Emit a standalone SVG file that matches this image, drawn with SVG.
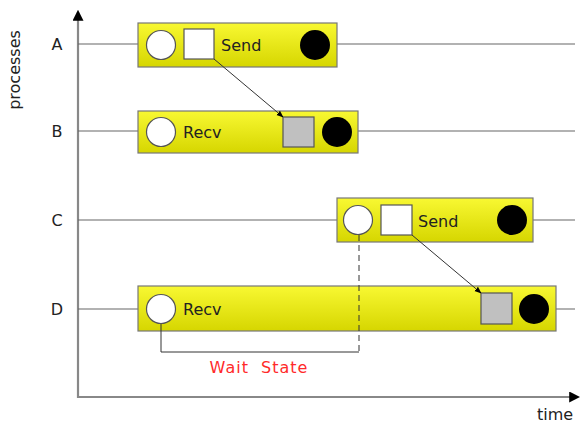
<svg xmlns="http://www.w3.org/2000/svg" width="584" height="424" viewBox="0 0 584 424">
<defs>
<linearGradient id="yg" x1="0" y1="0" x2="0" y2="1">
<stop offset="0" stop-color="#f8f832"/>
<stop offset="1" stop-color="#d6d600"/>
</linearGradient>
<marker id="ah" viewBox="0 0 10 10" refX="9" refY="5" markerWidth="7" markerHeight="7" orient="auto" markerUnits="userSpaceOnUse">
<path d="M0,1 L10,5 L0,9 z" fill="#000"/>
</marker>
<marker id="axh" viewBox="0 0 10 10" refX="8" refY="5" markerWidth="11" markerHeight="11" orient="auto" markerUnits="userSpaceOnUse">
<path d="M0,0 L10,5 L0,10 z" fill="#000"/>
</marker>
</defs>
<style>
text{font-family:"DejaVu Sans","Liberation Sans",sans-serif;font-size:16px;fill:#222}
.box{fill:url(#yg);stroke:#777;stroke-width:1.2}
.wc{fill:#fff;stroke:#555;stroke-width:1.2}
.ws{fill:#fff;stroke:#555;stroke-width:1.2}
.gs{fill:#c0c0c0;stroke:#555;stroke-width:1.2}
.bc{fill:#000}
.pl{stroke:#666;stroke-width:1.2;fill:none}
.ax{stroke:#888;stroke-width:2.2;fill:none}
.con{stroke:#333;stroke-width:1;fill:none}
</style>
<g id="axes">
<line class="ax" x1="78" y1="398" x2="78" y2="12" marker-end="url(#axh)"/>
<line class="ax" x1="77" y1="397" x2="578" y2="397" marker-end="url(#axh)"/>
<text x="20" y="70" text-anchor="middle" transform="rotate(-90 20 70)" font-size="14">processes</text>
<text x="555" y="420" text-anchor="middle" font-size="14">time</text>
</g>
<g id="process-lines">
<line class="pl" x1="78" y1="44" x2="575" y2="44"/>
<line class="pl" x1="78" y1="131" x2="575" y2="131"/>
<line class="pl" x1="78" y1="220" x2="575" y2="220"/>
<line class="pl" x1="78" y1="309" x2="575" y2="309"/>
<text x="57" y="50" text-anchor="middle">A</text>
<text x="57" y="137" text-anchor="middle">B</text>
<text x="57" y="226" text-anchor="middle">C</text>
<text x="57" y="315" text-anchor="middle">D</text>
</g>
<g id="nodeA">
<rect class="box" x="138" y="23" width="199" height="44"/>
<circle class="wc" cx="161" cy="45" r="14.5"/>
<rect class="ws" x="184" y="29" width="30" height="30"/>
<text x="221" y="51">Send</text>
<circle class="bc" cx="315" cy="45" r="15"/>
</g>
<g id="nodeB">
<rect class="box" x="138" y="111" width="220" height="42"/>
<circle class="wc" cx="161" cy="132" r="14.5"/>
<text x="183" y="138">Recv</text>
<rect class="gs" x="283" y="117" width="31" height="30"/>
<circle class="bc" cx="337" cy="132" r="15"/>
</g>
<g id="nodeC">
<rect class="box" x="337" y="198" width="196" height="44"/>
<circle class="wc" cx="358" cy="220" r="14.5"/>
<rect class="ws" x="381" y="205" width="31" height="30"/>
<text x="418" y="227">Send</text>
<circle class="bc" cx="512" cy="220" r="15"/>
</g>
<g id="nodeD">
<rect class="box" x="138" y="286" width="418" height="45"/>
<circle class="wc" cx="161" cy="309" r="14.5"/>
<text x="183" y="315">Recv</text>
<rect class="gs" x="481" y="293" width="31" height="31"/>
<circle class="bc" cx="534" cy="309" r="15"/>
</g>
<g id="connectors">
<line class="con" x1="214" y1="59" x2="283" y2="117" marker-end="url(#ah)"/>
<line class="con" x1="412" y1="235" x2="481" y2="293" marker-end="url(#ah)"/>
<line x1="359" y1="235" x2="359" y2="352" stroke="#333" stroke-width="1" stroke-dasharray="6,4"/>
<path d="M161,324 V352 H359" stroke="#333" stroke-width="1" fill="none"/>
<text x="259" y="373" text-anchor="middle" style="fill:#ff2a2a;letter-spacing:1px;word-spacing:6px">Wait State</text>
</g>
</svg>
